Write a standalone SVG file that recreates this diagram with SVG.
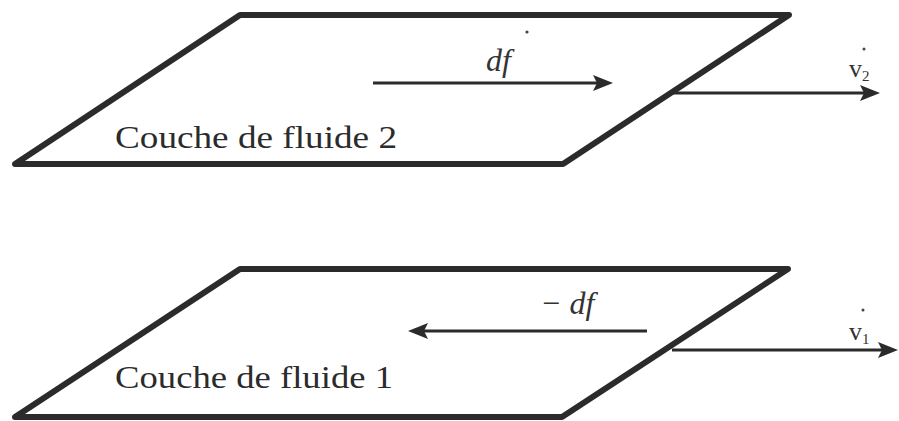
<svg xmlns="http://www.w3.org/2000/svg" width="899" height="421" viewBox="0 0 899 421">
  <style>
    .plate { fill: none; stroke: #2b2b2b; stroke-width: 6; stroke-linejoin: round; }
    .label { font-family: "Liberation Serif", "Times New Roman", serif; font-size: 31px; fill: #2b2b2b; }
    .math { font-family: "Liberation Serif", "Times New Roman", serif; font-style: italic; font-size: 32px; fill: #333; }
    .vec { font-family: "Liberation Serif", "Times New Roman", serif; font-size: 26px; fill: #333; }
    .sub { font-size: 15px; }
    .arrow { stroke: #2b2b2b; stroke-width: 3; fill: none; marker-end: url(#head); }
    .dot { fill: #444; }
  </style>
  <defs>
    <marker id="head" viewBox="0 0 20 16" refX="10" refY="8" markerWidth="20" markerHeight="16" markerUnits="userSpaceOnUse" orient="auto">
      <path d="M0,0 L20,8 L0,16 L4,8 z" fill="#2b2b2b"/>
    </marker>
  </defs>

  <g id="couche2">
    <polygon class="plate" points="240,15 789,15 563,164 15,164"/>
    <text class="label" x="115" y="148" textLength="282" lengthAdjust="spacingAndGlyphs">Couche de fluide 2</text>
  </g>

  <g id="couche1">
    <polygon class="plate" points="240,269 788,269 562,417 15,417"/>
    <text class="label" x="115" y="388" textLength="278" lengthAdjust="spacingAndGlyphs">Couche de fluide 1</text>
  </g>

  <g id="connectors">
    <line class="arrow" x1="373" y1="83" x2="603" y2="83"/>
    <line class="arrow" x1="672" y1="93" x2="870" y2="93"/>
    <line class="arrow" x1="647" y1="331" x2="418" y2="331"/>
    <line class="arrow" x1="672" y1="350" x2="888" y2="350"/>
  </g>

  <g id="labels">
    <text class="math" x="486" y="71">df</text>
    <circle class="dot" cx="527" cy="32" r="1.6"/>
    <text class="math" x="540" y="314">− df</text>
    <text class="vec" x="849" y="77">v<tspan class="sub" dy="4">2</tspan></text>
    <circle class="dot" cx="864" cy="49" r="1.5"/>
    <text class="vec" x="849" y="340">v<tspan class="sub" dy="4">1</tspan></text>
    <circle class="dot" cx="863" cy="310" r="1.5"/>
  </g>
</svg>
